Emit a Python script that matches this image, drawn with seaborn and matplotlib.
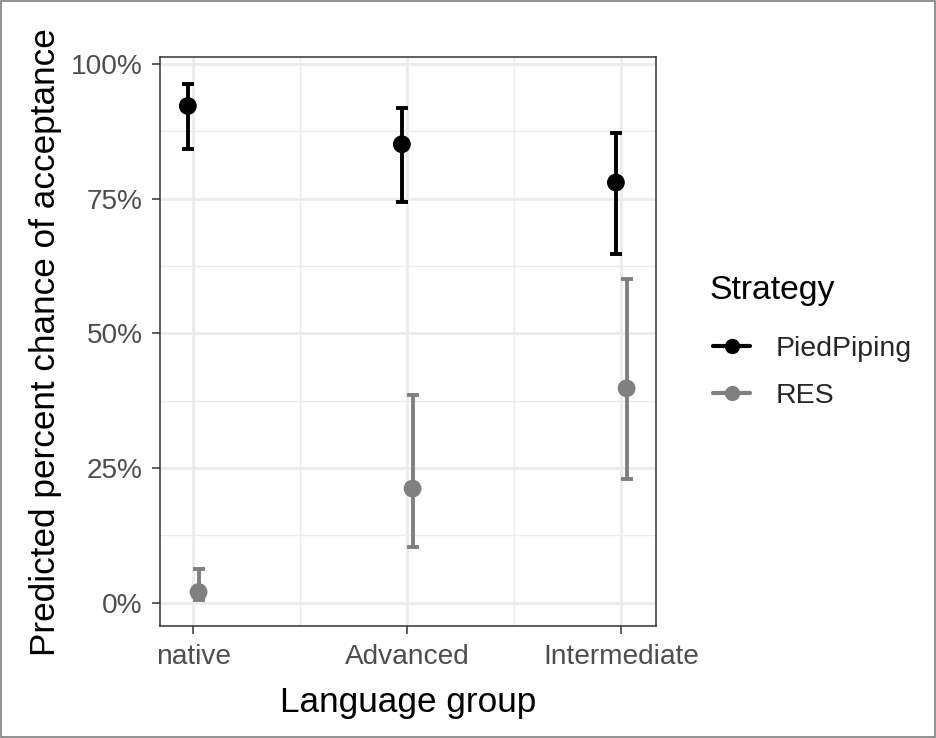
import matplotlib
matplotlib.use("Agg")
import matplotlib.pyplot as plt
import seaborn as sns
import numpy as np
import pandas as pd
from matplotlib.lines import Line2D
from matplotlib.patches import Rectangle
from matplotlib.ticker import PercentFormatter, FixedLocator

# Predicted acceptance (percent) with confidence limits
groups = ["native", "Advanced", "Intermediate"]
strategies = ["PiedPiping", "RES"]
pied_est = [92.2, 85.1, 78.0]
pied_lo = [84.3, 74.3, 64.8]
pied_hi = [96.3, 91.9, 87.2]
res_est = [2.0, 21.2, 39.8]
res_lo = [0.5, 10.4, 22.9]
res_hi = [6.3, 38.6, 60.1]
y_ticks = [0, 25, 50, 75, 100]

rows = []
for s, est, lo, hi in [("PiedPiping", pied_est, pied_lo, pied_hi),
                       ("RES", res_est, res_lo, res_hi)]:
    for g, e, l, h in zip(groups, est, lo, hi):
        rows.append(dict(group=g, Strategy=s, est=e, lo=l, hi=h))
df = pd.DataFrame(rows)

palette = {"PiedPiping": "#000000", "RES": "#808080"}
dodge = {"PiedPiping": -0.025, "RES": 0.025}
df["xpos"] = df["group"].map({g: i for i, g in enumerate(groups)}) + df["Strategy"].map(dodge)

sns.set_theme(style="white")
plt.rcParams["font.family"] = ["Liberation Sans", "DejaVu Sans"]

W, H = 936, 738
fig = plt.figure(figsize=(W / 100, H / 100), dpi=100)
ax = fig.add_axes([160 / W, 1 - 626 / H, (655.5 - 160) / W, (626 - 57.5) / H])

# grid (major + minor)
for y in y_ticks:
    ax.axhline(y, color="#ebebeb", lw=2.0, zorder=0)
for y in [12.5, 37.5, 62.5, 87.5]:
    ax.axhline(y, color="#ebebeb", lw=1.0, zorder=0)
for x in range(len(groups)):
    ax.axvline(x, color="#ebebeb", lw=2.0, zorder=0)
for x in [0.5, 1.5]:
    ax.axvline(x, color="#ebebeb", lw=1.0, zorder=0)

for s in strategies:
    d = df[df["Strategy"] == s]
    ax.errorbar(d["xpos"], d["est"], yerr=[d["est"] - d["lo"], d["hi"] - d["est"]],
                fmt="none", ecolor=palette[s], elinewidth=2.8, capsize=4.0,
                capthick=2.8, zorder=2)

sns.scatterplot(data=df, x="xpos", y="est", hue="Strategy", palette=palette,
                s=165, linewidth=0, ax=ax, legend=False, zorder=3)

ax.set_xlim(-0.155, 2.16)
ax.set_ylim(-4.3, 101.2)
ax.xaxis.set_major_locator(FixedLocator(range(len(groups))))
ax.set_xticklabels(groups)
ax.yaxis.set_major_locator(FixedLocator(y_ticks))
ax.yaxis.set_major_formatter(PercentFormatter(decimals=0))

ax.tick_params(axis="both", which="major", length=6, width=1.1, color="#333333",
               labelsize=20.2, labelcolor="#4d4d4d", pad=7, direction="out",
               bottom=True, left=True)
ax.tick_params(axis="y", pad=6.5)
for sp in ax.spines.values():
    sp.set_color("#333333")
    sp.set_linewidth(1.1)
    sp.set_visible(True)

ax.set_xlabel("Language group", fontsize=25.3, color="black")
ax.set_ylabel("Predicted percent chance of acceptance", fontsize=25.3, color="black")
ax.xaxis.set_label_coords(0.5, -(686 - 626) / (626 - 57.5))
ax.yaxis.set_label_coords(-(160 - 62) / (655.5 - 160), 0.5)

# legend: title and keys
fig.text(709 / W, 1 - 290 / H, "Strategy", fontsize=24.3, color="black",
         ha="left", va="center")
handles = [Line2D([0], [0], color=palette[s], lw=3.0, marker="o", markersize=11,
                  markeredgewidth=0) for s in strategies]
leg = fig.legend(handles, strategies, loc="center left",
                 bbox_to_anchor=(713 / W, 1 - 372.5 / H), frameon=False,
                 fontsize=20.5, handlelength=1.3, handletextpad=0.9,
                 labelspacing=0.73, borderpad=0, borderaxespad=0)

# thin frame around the whole figure
fig.add_artist(Rectangle((0.0008, 0.001), 0.9984, 0.998, transform=fig.transFigure,
                         fill=False, edgecolor="#7f7f7f", lw=1.2))

fig.savefig("out.png", dpi=100, facecolor="white")
